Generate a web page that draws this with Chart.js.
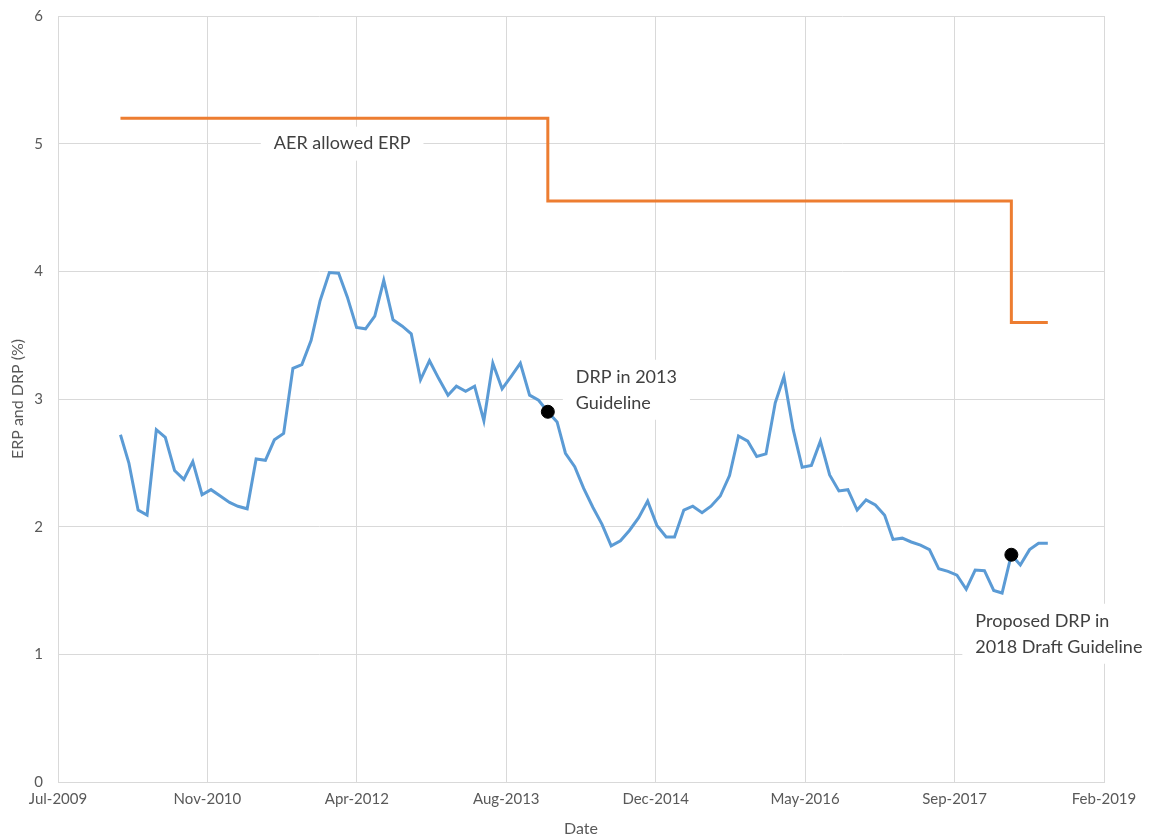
<!DOCTYPE html>
<html>
<head>
<meta charset="utf-8">
<script src="https://cdn.jsdelivr.net/npm/chart.js@4.4.1/dist/chart.umd.min.js"></script>
<style>
  html, body { margin: 0; padding: 0; background: #fff; }
  #wrap { width: 1154px; height: 838px; }
</style>
</head>
<body>
<div id="wrap"><canvas id="chart"></canvas></div>
<script>
// monthly DRP series, Jan-2010 .. Jul-2018
const firstMonth = '2010-01';
const drpValues = [
  2.72, 2.50, 2.13, 2.09, 2.76, 2.70, 2.44, 2.37, 2.51, 2.25, 2.29, 2.24,
  2.19, 2.16, 2.14, 2.53, 2.52, 2.68, 2.73, 3.24, 3.27, 3.46, 3.77, 3.99,
  3.985, 3.80, 3.56, 3.55, 3.65, 3.93, 3.62, 3.57, 3.51, 3.15, 3.30, 3.16,
  3.03, 3.10, 3.06, 3.10, 2.83, 3.28, 3.08, 3.18, 3.28, 3.03, 2.99, 2.90,
  2.82, 2.575, 2.47, 2.30, 2.15, 2.02, 1.85, 1.89, 1.97, 2.07, 2.20, 2.01,
  1.92, 1.92, 2.13, 2.16, 2.11, 2.16, 2.24, 2.40, 2.71, 2.67, 2.55, 2.57,
  2.97, 3.175, 2.76, 2.465, 2.48, 2.67, 2.405, 2.28, 2.29, 2.13, 2.21, 2.17,
  2.09, 1.90, 1.91, 1.88, 1.856, 1.82, 1.67, 1.65, 1.62, 1.51, 1.66, 1.655,
  1.50, 1.48, 1.78, 1.70, 1.82, 1.87, 1.87
];

// AER allowed ERP (step line)
const aerMonths = ['2010-01', '2013-12', '2013-12', '2018-03', '2018-03', '2018-07'];
const aerValues = [5.2, 5.2, 4.55, 4.55, 3.6, 3.6];

// highlighted DRP points
const markerMonths = ['2013-12', '2018-03'];
const markerValues = [2.90, 1.78];
const markerLabels = [['DRP in 2013', 'Guideline'], ['Proposed DRP in', '2018 Draft Guideline']];
const aerLabel = 'AER allowed ERP';

// x axis ticks as Excel date serials
const xTicks = [40000, 40500, 41000, 41500, 42000, 42500, 43000, 43500];
const yTicks = [0, 1, 2, 3, 4, 5, 6];

const MONTHS = ['Jan','Feb','Mar','Apr','May','Jun','Jul','Aug','Sep','Oct','Nov','Dec'];
const EPOCH = Date.UTC(1899, 11, 30);

// end of month as Excel serial
function serialOf(ym) {
    const [y, m] = ym.split('-').map(Number);
    return Math.round((Date.UTC(y, m, 0) - EPOCH) / 864e5);
}
function addMonths(ym, n) {
    const [y, m] = ym.split('-').map(Number);
    const t = (y * 12 + m - 1) + n;
    return Math.floor(t / 12) + '-' + String(t % 12 + 1).padStart(2, '0');
}
function serialLabel(s) {
    const d = new Date(EPOCH + s * 864e5);
    return MONTHS[d.getUTCMonth()] + '-' + d.getUTCFullYear();
}

const drpPoints = drpValues.map((v, i) => ({ x: serialOf(addMonths(firstMonth, i)), y: v }));
const aerPoints = aerMonths.map((m, i) => ({ x: serialOf(m), y: aerValues[i] }));
const markerPoints = markerMonths.map((m, i) => ({ x: serialOf(m), y: markerValues[i] }));

function textBox(ctx, lines, left, top, lineH, padX, padY) {
    let w = 0;
    lines.forEach(l => { w = Math.max(w, ctx.measureText(l).width); });
    ctx.fillStyle = '#ffffff';
    ctx.fillRect(left - padX, top - padY, w + padX * 2, lines.length * lineH + padY * 2);
    ctx.fillStyle = '#404040';
    lines.forEach((l, i) => ctx.fillText(l, left, top + lineH * i + lineH / 2));
}

const notes = {
    id: 'notes',
    beforeDatasetsDraw(chart) {
        const { ctx, scales: { x, y } } = chart;
        ctx.save();
        ctx.font = '18px Lato';
        ctx.textBaseline = 'middle';
        ctx.textAlign = 'left';

        // AER label sits on the 5% gridline under the first step
        const aw = ctx.measureText(aerLabel).width;
        const ax = (x.getPixelForValue(aerPoints[0].x) + x.getPixelForValue(aerPoints[1].x)) / 2 + 8;
        textBox(ctx, [aerLabel], ax - aw / 2, y.getPixelForValue(5) - 13, 26, 13, 4);

        const p0 = markerPoints[0], p1 = markerPoints[1];
        textBox(ctx, markerLabels[0], x.getPixelForValue(p0.x) + 28, y.getPixelForValue(p0.y) - 48, 26, 13, 4);
        textBox(ctx, markerLabels[1], x.getPixelForValue(p1.x) - 36, y.getPixelForValue(p1.y) + 53, 26, 13, 4);
        ctx.restore();
    }
};

const tickFont = { family: 'Lato', size: 15 };
const titleFont = { family: 'Lato', size: 16 };

new Chart(document.getElementById('chart'), {
    type: 'line',
    data: {
        datasets: [
            {
                label: 'Markers',
                data: markerPoints,
                showLine: false,
                pointRadius: 6.5,
                pointBackgroundColor: '#000000',
                pointBorderColor: '#000000'
            },
            {
                label: 'DRP',
                data: drpPoints,
                borderColor: '#5B9BD5',
                borderWidth: 3,
                pointRadius: 0,
                tension: 0
            },
            {
                label: 'AER allowed ERP',
                data: aerPoints,
                borderColor: '#ED7D31',
                borderWidth: 3,
                pointRadius: 0,
                tension: 0
            }
        ]
    },
    options: {
        responsive: true,
        maintainAspectRatio: false,
        animation: false,
        layout: { padding: { top: 16, right: 50, bottom: 0, left: 0 } },
        plugins: { legend: { display: false }, tooltip: { enabled: false } },
        scales: {
            x: {
                type: 'linear',
                min: 40000,
                max: 43500,
                afterBuildTicks: s => { s.ticks = xTicks.map(v => ({ value: v })); },
                afterFit: s => { s.height = 56; },
                grid: { color: '#D9D9D9', drawTicks: false },
                border: { color: '#D9D9D9' },
                ticks: { font: tickFont, color: '#595959', padding: 8, maxRotation: 0, callback: v => serialLabel(v) },
                title: { display: true, text: 'Date', font: titleFont, color: '#595959', padding: 0 }
            },
            y: {
                min: 0,
                max: 6,
                afterBuildTicks: s => { s.ticks = yTicks.map(v => ({ value: v })); },
                afterFit: s => { s.width = 58; s.paddingTop = 0; s.paddingBottom = 0; },
                grid: { color: '#D9D9D9', drawTicks: false },
                border: { display: false },
                ticks: { font: tickFont, color: '#595959', padding: 15 },
                title: { display: true, text: 'ERP and DRP (%)', font: titleFont, color: '#595959', padding: { top: 8, bottom: 0 } }
            }
        }
    },
    plugins: [notes]
});
</script>
</body>
</html>
